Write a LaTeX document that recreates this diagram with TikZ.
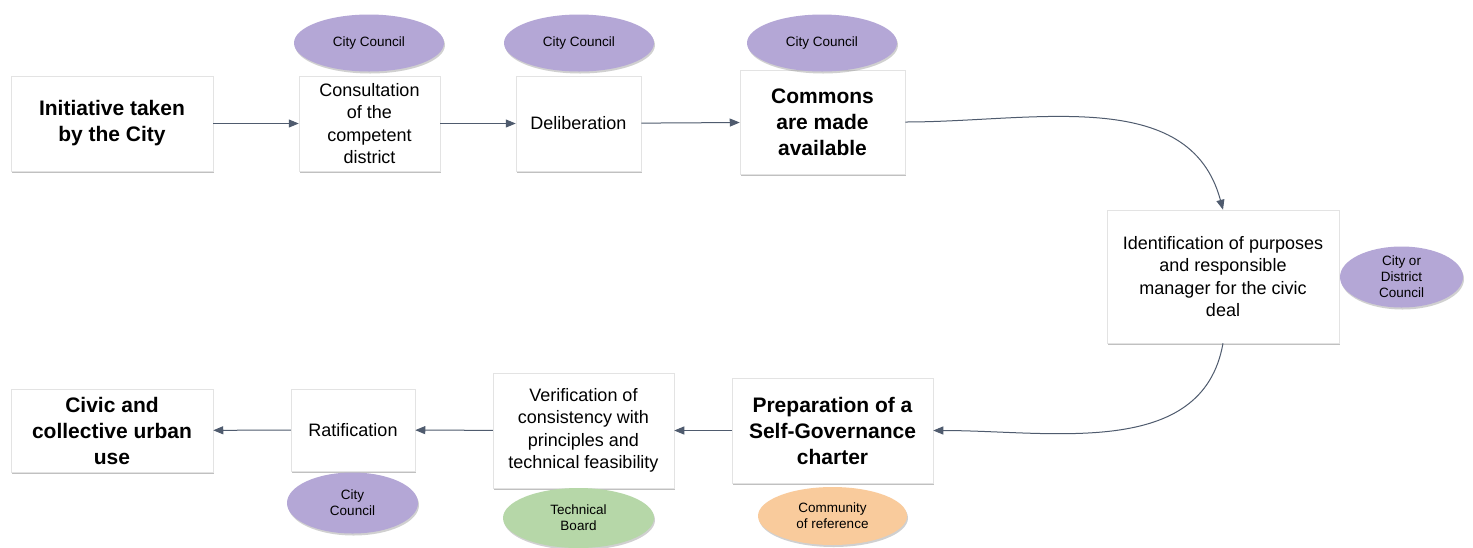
\documentclass[tikz,border=0pt]{standalone}
\usepackage{fontspec}
\setmainfont{Liberation Sans}
\usetikzlibrary{arrows.meta,shapes.geometric,shadows}
\definecolor{linkgray}{HTML}{4F5B6E}
\definecolor{lilac}{HTML}{B4A7D6}
\definecolor{sage}{HTML}{B6D7A8}
\definecolor{peach}{HTML}{F9CB9C}
\definecolor{boxbd}{HTML}{E3E3E3}
\tikzset{
  stepbox/.style={draw=boxbd,fill=white,line width=0.5pt,align=center,
                  inner sep=2pt,font=\fontsize{18}{22.5}\selectfont,
                  drop shadow={shadow xshift=1.2pt,shadow yshift=-2.2pt,
                               opacity=0.35,fill=black!70}},
  keybox/.style={stepbox,font=\fontsize{21}{26}\selectfont\bfseries},
  actor/.style={ellipse,draw=none,inner sep=0pt,align=center,
                font=\fontsize{13.5}{16}\selectfont,
                drop shadow={shadow xshift=1pt,shadow yshift=-2pt,
                             opacity=0.3,fill=black!60}},
  flow/.style={-{Triangle[length=10pt,width=8pt]},line width=1pt,linkgray},
}

\begin{document}
\begin{tikzpicture}[x=1pt,y=-1pt]
  \useasboundingbox[fill=white] (0,0) rectangle (1473,547);
  % upper row
  \node[keybox,minimum width=202pt,minimum height=95pt] (init) at (112,123.5)
    {Initiative taken\\by the City};
  \node[stepbox,minimum width=141pt,minimum height=95pt] (consult) at (369.5,123.5)
    {Consultation\\of the\\competent\\district};
  \node[stepbox,minimum width=125pt,minimum height=95pt] (delib) at (578.5,123.5)
    {Deliberation};
  \node[keybox,minimum width=165pt,minimum height=104pt] (commons) at (822.5,122)
    {Commons\\are made\\available};
  % right side
  \node[stepbox,minimum width=232pt,minimum height=133pt] (ident) at (1223,276.5)
    {Identification of purposes\\and responsible\\manager for the civic\\deal};
  % lower row
  \node[keybox,minimum width=201pt,minimum height=105pt] (prep) at (832.5,430.5)
    {Preparation of a\\Self-Governance\\charter};
  \node[stepbox,minimum width=181pt,minimum height=115pt] (verif) at (583.5,430.5)
    {Verification of\\consistency with\\principles and\\technical feasibility};
  \node[stepbox,minimum width=124pt,minimum height=82pt] (ratif) at (353,430)
    {Ratification};
  \node[keybox,minimum width=202pt,minimum height=83pt] (civic) at (112,430.5)
    {Civic and\\collective urban\\use};

  % who is involved
  \node[actor,fill=lilac,minimum width=150pt,minimum height=57pt] (cc1) at (369,43)
    {City Council};
  \node[actor,fill=lilac,minimum width=150pt,minimum height=57pt] (cc2) at (579,43)
    {City Council};
  \node[actor,fill=lilac,minimum width=150pt,minimum height=57pt] (cc3) at (822,43)
    {City Council};
  \node[actor,fill=lilac,minimum width=123pt,minimum height=61pt] (cdc) at (1401.5,277)
    {City or\\District\\Council};
  \node[actor,fill=lilac,minimum width=131pt,minimum height=61pt] (cc4) at (352.5,503)
    {City\\Council};
  \node[actor,fill=sage,minimum width=151pt,minimum height=60pt] (tb) at (578.5,518)
    {Technical\\Board};
  \node[actor,fill=peach,minimum width=149pt,minimum height=58pt] (cor) at (832.5,516)
    {Community\\of reference};

  % connectors
  \draw[flow] (init) -- (consult);
  \draw[flow] (consult) -- (delib);
  \draw[flow] (delib) -- (commons);
  \draw[flow] (commons.east) to[out=0,in=105] (ident.north);
  \draw[flow] (ident.south) to[out=-100,in=0] (prep.east);
  \draw[flow] (prep) -- (verif);
  \draw[flow] (verif) -- (ratif);
  \draw[flow] (ratif) -- (civic);
\end{tikzpicture}
\end{document}
